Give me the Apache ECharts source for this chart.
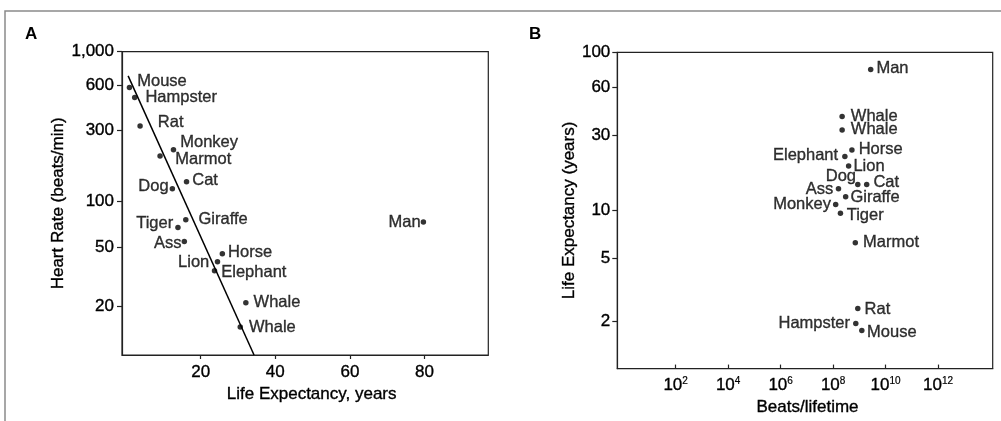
<!DOCTYPE html>
<html><head><meta charset="utf-8">
<script src="https://cdn.jsdelivr.net/npm/echarts@6/dist/echarts.min.js"></script>
<style>html,body{margin:0;padding:0;background:#fff}#c{width:1001px;height:421px}</style>
</head><body><div id="c"></div>
<script>
const FONT = '"Liberation Sans", Arial, Helvetica, sans-serif';

// ---- Panel A: heart rate vs life expectancy ----
const animalsA = ['Mouse','Hampster','Rat','Monkey','Marmot','Cat','Dog','Giraffe','Tiger','Ass','Horse','Lion','Elephant','Whale','Whale','Man'];
const lifeExpA = [0.9, 2.3, 3.75, 12.7, 9.1, 16.2, 12.4, 16.0, 13.9, 15.6, 25.8, 24.5, 23.7, 32.1, 30.6, 79.7];
const heartRateA = [577, 495, 319, 222, 202, 136, 122, 75.9, 67.4, 54.3, 44.9, 39.8, 34.6, 21.2, 14.6, 73.2];
const fitLifeExp = [0.54, 34.3];
const fitHeartRate = [690, 9.5];
const xTicksA = [20, 40, 60, 80];
const yTicksA = [20, 50, 100, 300, 600, 1000];

// ---- Panel B: life expectancy vs beats per lifetime ----
const animalsB = ['Man','Whale','Whale','Horse','Elephant','Lion','Dog','Cat','Ass','Giraffe','Monkey','Tiger','Marmot','Rat','Hampster','Mouse'];
const beatsB = [2.7e9, 2.2e8, 2.2e8, 5.2e8, 2.8e8, 3.9e8, 8.7e8, 1.9e9, 1.6e8, 3.0e8, 1.25e8, 1.9e8, 7.0e8, 8.7e8, 7.3e8, 1.24e9];
const lifeExpB = [77.8, 39.2, 32.3, 24.1, 21.9, 19.1, 14.6, 14.6, 13.7, 12.2, 10.9, 9.6, 6.25, 2.4, 1.93, 1.74];
const xTicksB = [1e2, 1e4, 1e6, 1e8, 1e10, 1e12];
const yTicksB = [2, 5, 10, 30, 60, 100];

// label placement (style only): [side, distance, vertical offset]
const labelPlaceA = [['right',5,-6],['right',8,0],['right',15,-4],['right',4,-7],['right',12.5,4],['right',3,-1],['left',1,-2],['right',10,0],['left',2,-4],['left',0,2],['right',3,-1],['left',5.5,1],['right',4,2],['right',5,0],['right',6,0],['left',0,0]];
const labelPlaceB = [['right',3,-1],['right',6,0],['right',6,0],['right',4,-1],['left',4,-1],['right',2,0],['left',-1,-7.5],['right',4,-2],['left',2.5,1],['right',2,1],['left',2,0],['right',3.5,2],['right',5,0],['right',4,1],['left',3,0],['right',2.5,2]];

function pts(names, xs, ys, place) {
  return names.map((n, i) => ({
    name: n, value: [xs[i], ys[i]],
    label: { position: place[i][0], distance: place[i][1], offset: [0, place[i][2]] }
  }));
}

const INK = { color: '#000', fontFamily: FONT, textBorderColor: '#000', textBorderWidth: 0.35 };
const axisLineStyle = { color: '#222', width: 1.2 };
const tickFont = { fontSize: 17, ...INK };
const nameFont = { fontSize: 17, ...INK };
const labelStyle = { show: true, formatter: '{b}', fontSize: 16.5, ...INK };

const chart = echarts.init(document.getElementById('c'), null, { renderer: 'canvas' });
chart.setOption({
  animation: false,
  backgroundColor: '#fff',
  textStyle: { fontFamily: FONT },
  title: [
    { text: 'A', left: 25, top: 26, padding: 0, textStyle: { fontSize: 17, fontWeight: 'bold', color: '#000', fontFamily: FONT } },
    { text: 'B', left: 529, top: 26, padding: 0, textStyle: { fontSize: 17, fontWeight: 'bold', color: '#000', fontFamily: FONT } }
  ],
  graphic: [{
    type: 'rect', silent: true, z: -10,
    shape: { x: 5, y: 11, width: 1100, height: 500 },
    style: { fill: 'none', stroke: '#8a8a8a', lineWidth: 1.5 }
  }],
  grid: [
    { left: 122, top: 51.7, width: 366.3, height: 303.3, show: true, borderColor: '#222', borderWidth: 1.2, backgroundColor: 'transparent' },
    { left: 617.3, top: 52.3, width: 375.4, height: 317.2, show: true, borderColor: '#222', borderWidth: 1.2, backgroundColor: 'transparent' }
  ],
  xAxis: [
    {
      type: 'value', gridIndex: 0, min: -1.1, max: 97.1,
      splitLine: { show: false },
      axisLine: { show: true, onZero: false, lineStyle: axisLineStyle },
      axisTick: { show: true, inside: false, length: 4, customValues: xTicksA, lineStyle: axisLineStyle },
      axisLabel: { customValues: xTicksA, margin: 9, ...tickFont },
      name: 'Life Expectancy, years', nameLocation: 'middle', nameGap: 27.5,
      nameTextStyle: { ...nameFont, padding: [0, 0, 0, 13] }
    },
    {
      type: 'log', gridIndex: 1, min: 0.6, max: 1.2e14,
      splitLine: { show: false }, minorTick: { show: false },
      axisLine: { show: true, onZero: false, lineStyle: axisLineStyle },
      axisTick: { show: true, inside: true, length: 4, customValues: xTicksB, lineStyle: axisLineStyle },
      axisLabel: {
        customValues: xTicksB, margin: 8, ...tickFont,
        formatter: v => '{b|10}{s|' + Math.round(Math.log10(v)) + '}',
        rich: {
          b: { fontSize: 17, ...INK },
          s: { fontSize: 10, ...INK, textBorderWidth: 0.2, verticalAlign: 'top' }
        }
      },
      name: 'Beats/lifetime', nameLocation: 'middle', nameGap: 27.5,
      nameTextStyle: { ...nameFont, padding: [0, 0, 0, 5] }
    }
  ],
  yAxis: [
    {
      type: 'log', gridIndex: 0, min: 9.5, max: 1000,
      splitLine: { show: false }, minorTick: { show: false },
      axisLine: { show: true, onZero: false, lineStyle: axisLineStyle },
      axisTick: { show: true, inside: false, length: 5, customValues: yTicksA, lineStyle: axisLineStyle },
      axisLabel: { customValues: yTicksA, margin: 8, ...tickFont, formatter: v => Number(v).toLocaleString('en-US') },
      name: 'Heart Rate (beats/min)', nameLocation: 'middle', nameGap: 41.5,
      nameTextStyle: nameFont
    },
    {
      type: 'log', gridIndex: 1, min: 1, max: 100,
      splitLine: { show: false }, minorTick: { show: false },
      axisLine: { show: true, onZero: false, lineStyle: axisLineStyle },
      axisTick: { show: true, inside: false, length: 5, customValues: yTicksB, lineStyle: axisLineStyle },
      axisLabel: { customValues: yTicksB, margin: 7, ...tickFont },
      name: 'Life Expectancy (years)', nameLocation: 'middle', nameGap: 35,
      nameTextStyle: nameFont
    }
  ],
  series: [
    {
      type: 'line', xAxisIndex: 0, yAxisIndex: 0, silent: true, symbol: 'none', clip: true,
      data: fitLifeExp.map((x, i) => [x, fitHeartRate[i]]),
      lineStyle: { color: '#000', width: 1.5 }
    },
    {
      type: 'scatter', xAxisIndex: 0, yAxisIndex: 0, symbolSize: 5.5,
      itemStyle: { color: '#000' }, label: labelStyle,
      data: pts(animalsA, lifeExpA, heartRateA, labelPlaceA)
    },
    {
      type: 'scatter', xAxisIndex: 1, yAxisIndex: 1, symbolSize: 5.5,
      itemStyle: { color: '#000' }, label: labelStyle,
      data: pts(animalsB, beatsB, lifeExpB, labelPlaceB)
    }
  ]
});
</script>
</body></html>
